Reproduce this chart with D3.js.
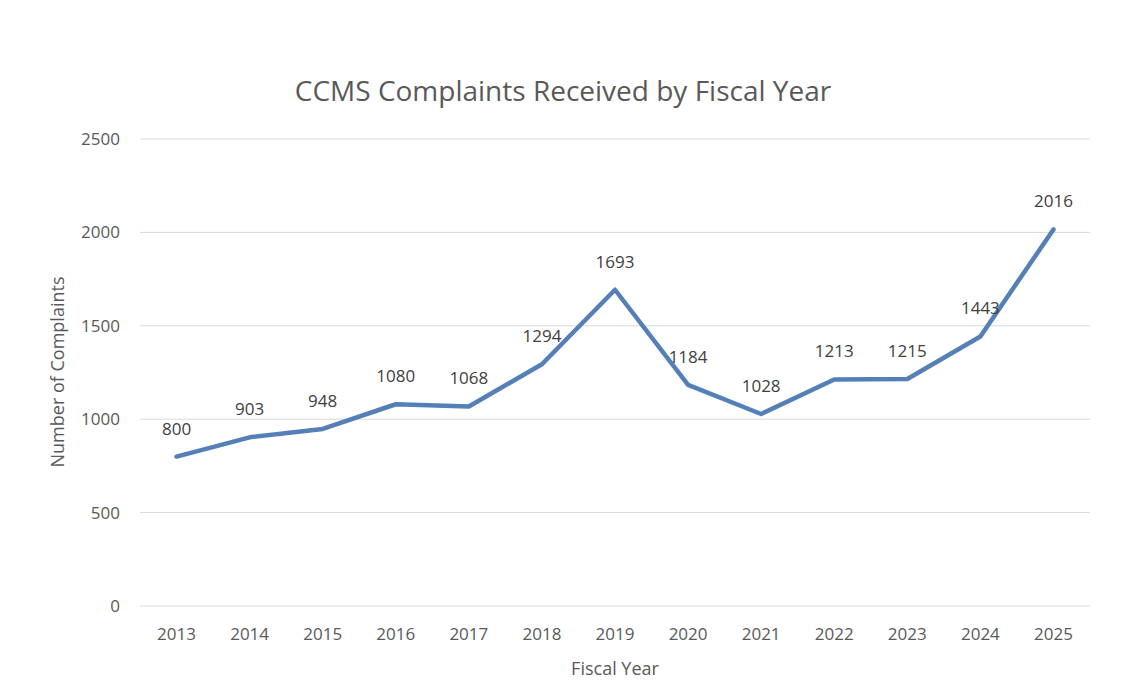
<!DOCTYPE html>
<html>
<head>
<meta charset="utf-8">
<script src="https://cdn.jsdelivr.net/npm/d3@7"></script>
<style>
  body { margin: 0; background: #fff; }
  text { font-family: "Open Sans", "Noto Sans", sans-serif; fill: #404040; }
</style>
</head>
<body>
<div id="chart"></div>
<script>
const years = ["2013","2014","2015","2016","2017","2018","2019","2020","2021","2022","2023","2024","2025"];
const complaints = [800, 903, 948, 1080, 1068, 1294, 1693, 1184, 1028, 1213, 1215, 1443, 2016];
const yTicks = [0, 500, 1000, 1500, 2000, 2500];

const width = 1138, height = 689;
const margin = { top: 139, right: 48, bottom: 82, left: 140 };

const svg = d3.select("#chart").append("svg")
    .attr("width", width)
    .attr("height", height);

const x = d3.scaleBand()
    .domain(years)
    .range([margin.left, width - margin.right]);

const y = d3.scaleLinear()
    .domain([0, 2500])
    .range([height - margin.bottom - 1, margin.top]);

// Gridlines
svg.append("g")
    .selectAll("line")
    .data(yTicks)
    .enter()
    .append("line")
    .attr("x1", margin.left)
    .attr("x2", width - margin.right)
    .attr("y1", d => y(d))
    .attr("y2", d => y(d))
    .attr("stroke", "#d9d9d9")
    .attr("stroke-width", 1);

// Y tick labels
svg.append("g")
    .selectAll("text")
    .data(yTicks)
    .enter()
    .append("text")
    .attr("x", 120)
    .attr("y", d => y(d))
    .attr("dy", "0.35em")
    .attr("text-anchor", "end")
    .style("font-size", "17px")
    .style("fill", "#595959")
    .text(d => d);

// X tick labels
svg.append("g")
    .selectAll("text")
    .data(years)
    .enter()
    .append("text")
    .attr("x", d => x(d) + x.bandwidth() / 2)
    .attr("y", 640)
    .attr("text-anchor", "middle")
    .style("font-size", "17px")
    .style("fill", "#595959")
    .text(d => d);

// Line
const line = d3.line()
    .x((d, i) => x(years[i]) + x.bandwidth() / 2)
    .y(d => y(d));

svg.append("path")
    .datum(complaints)
    .attr("d", line)
    .attr("fill", "none")
    .attr("stroke", "#5580b7")
    .attr("stroke-width", 4.5)
    .attr("stroke-linejoin", "round")
    .attr("stroke-linecap", "round");

// Data labels
svg.append("g")
    .selectAll("text")
    .data(complaints)
    .enter()
    .append("text")
    .attr("x", (d, i) => x(years[i]) + x.bandwidth() / 2)
    .attr("y", d => y(d) - 22)
    .attr("text-anchor", "middle")
    .style("font-size", "17px")
    .text(d => d);

// Title
svg.append("text")
    .attr("x", 563)
    .attr("y", 101)
    .attr("text-anchor", "middle")
    .style("font-size", "28px")
    .style("fill", "#595959")
    .text("CCMS Complaints Received by Fiscal Year");

// Axis titles
svg.append("text")
    .attr("transform", "translate(64,372) rotate(-90)")
    .attr("text-anchor", "middle")
    .style("font-size", "18px")
    .style("fill", "#595959")
    .text("Number of Complaints");

svg.append("text")
    .attr("x", 615)
    .attr("y", 675)
    .attr("text-anchor", "middle")
    .style("font-size", "18px")
    .style("fill", "#595959")
    .text("Fiscal Year");
</script>
</body>
</html>
